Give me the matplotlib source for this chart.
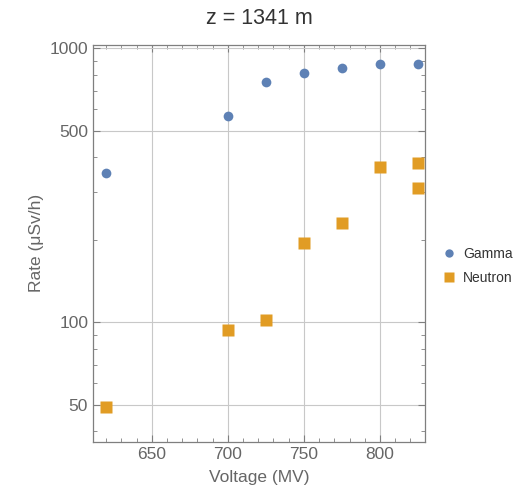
import matplotlib
matplotlib.use("Agg")
import matplotlib.pyplot as plt
from matplotlib.ticker import FixedLocator, NullFormatter, MultipleLocator
from matplotlib.lines import Line2D

plt.rcParams["font.family"] = ["Liberation Sans", "DejaVu Sans"]

# data
gamma_v = [620, 700, 725, 750, 775, 800, 825]
gamma_rate = [352, 565, 752, 811, 846, 874, 876]
neutron_v = [620, 700, 725, 750, 775, 800, 825, 825]
neutron_rate = [49, 94, 102, 195, 230, 370, 383, 309]

x_major = [650, 700, 750, 800]
y_major = [50, 100, 500, 1000]
y_minor = [40, 60, 70, 80, 90, 200, 300, 400, 600, 700, 800, 900]

GAMMA_C = "#5E81B5"
NEUTRON_C = "#E19C24"
FRAME_C = "#7f7f7f"
TEXT_C = "#666666"

fig = plt.figure(figsize=(5.2, 4.97), dpi=100)
ax = fig.add_axes([93 / 520, 1 - 441.7 / 497, 332 / 520, 396.7 / 497])

ax.plot(gamma_v, gamma_rate, "o", color=GAMMA_C, ms=7, mec="none", clip_on=False, zorder=3)
ax.plot(neutron_v, neutron_rate, "s", color=NEUTRON_C, ms=8, mec="none", clip_on=False, zorder=3)

ax.set_yscale("log")
ax.set_xlim(611.4, 829.6)
ax.set_ylim(36.7, 1028)

ax.xaxis.set_major_locator(FixedLocator(x_major))
ax.xaxis.set_minor_locator(MultipleLocator(10))
ax.yaxis.set_major_locator(FixedLocator(y_major))
ax.yaxis.set_minor_locator(FixedLocator(y_minor))
ax.yaxis.set_minor_formatter(NullFormatter())
ax.set_yticklabels([str(v) for v in y_major])

ax.grid(True, which="major", color="#c8c8c8", lw=0.8)
ax.set_axisbelow(True)

ax.tick_params(which="both", direction="in", top=True, right=True,
               color=FRAME_C, labelcolor=TEXT_C, labelsize=12.5)
ax.tick_params(which="major", length=5, width=0.8)
ax.tick_params(which="minor", length=3, width=0.6)
ax.tick_params(axis="x", which="both", labeltop=False)
ax.tick_params(axis="y", which="both", labelright=False)
for s in ax.spines.values():
    s.set_color(FRAME_C)
    s.set_linewidth(0.9)

ax.set_xlabel("Voltage (MV)", color=TEXT_C, fontsize=12.5, labelpad=6)
ax.set_ylabel("Rate (\u03bcSv/h)", color=TEXT_C, fontsize=12.5, labelpad=4)
ax.set_title("z = 1341 m", color="#333333", fontsize=15.5, pad=15)

handles = [
    Line2D([], [], ls="none", marker="o", color=GAMMA_C, mec="none", ms=6),
    Line2D([], [], ls="none", marker="s", color=NEUTRON_C, mec="none", ms=7),
]
fig.legend(handles, ["Gamma", "Neutron"], loc="center left",
           bbox_to_anchor=(442 / 520, 1 - 266 / 497), frameon=False,
           borderpad=0, borderaxespad=0,
           fontsize=10, handlelength=1.0, handletextpad=0.5, labelspacing=0.75,
           labelcolor="#333333")

fig.savefig("out.png", dpi=100)
